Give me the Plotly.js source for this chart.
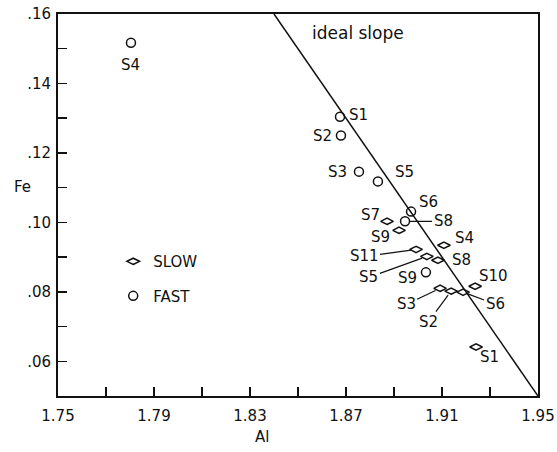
<!DOCTYPE html>
<html>
<head>
<meta charset="utf-8">
<script src="https://cdn.plot.ly/plotly-3.0.1.min.js"></script>
<style>
  html, body { margin: 0; padding: 0; background: #fff; }
  #chart { width: 557px; height: 452px; }
</style>
</head>
<body>
<div id="chart"></div>
<script>
// Slowly cooled samples (Al vs Fe per formula unit)
const slowLabels = ['S1', 'S2', 'S3', 'S4', 'S5', 'S6', 'S7', 'S8', 'S9', 'S10', 'S11'];
const slowAl = [1.9242, 1.9138, 1.9092, 1.9108, 1.9037, 1.9188, 1.8871, 1.9083, 1.8921, 1.9238, 1.8992];
const slowFe = [0.0641, 0.0802, 0.0810, 0.0934, 0.0902, 0.0799, 0.1003, 0.0891, 0.0977, 0.0816, 0.0922];

// Fast cooled samples
const fastLabels = ['S1', 'S2', 'S3', 'S4', 'S5', 'S6', 'S8', 'S9'];
const fastAl = [1.8675, 1.8679, 1.8754, 1.7804, 1.8833, 1.8971, 1.8946, 1.9033];
const fastFe = [0.1304, 0.1250, 0.1146, 0.1517, 0.1118, 0.1031, 0.1003, 0.0856];

// Ideal substitution line: Al + Fe = 2
const idealAl = [1.84, 1.95];
const idealFe = [0.16, 0.05];

// Axis ticks
const xTickVals = [1.75, 1.79, 1.83, 1.87, 1.91, 1.95];
const xTickText = ['1.75', '1.79', '1.83', '1.87', '1.91', '1.95'];
const yTickVals = [0.06, 0.08, 0.10, 0.12, 0.14, 0.16];
const yTickText = ['.06', '.08', '.10', '.12', '.14', '.16'];

// Label placement (pixel offsets from each marker; leader = draw a connecting line)
const slowLabelPos = [
  {dx: 13, dy: 10}, {dx: -23, dy: 31, leader: true}, {dx: -34, dy: 16, leader: true},
  {dx: 21, dy: -7}, {dx: -58, dy: 21, leader: true}, {dx: 32, dy: 12, leader: true},
  {dx: -17, dy: -6}, {dx: 24, dy: 0}, {dx: -19, dy: 7}, {dx: 18, dy: -10},
  {dx: -52, dy: 7, leader: true}
];
const fastLabelPos = [
  {dx: 18, dy: -2}, {dx: -18, dy: 0}, {dx: -21, dy: 0}, {dx: 0, dy: 22},
  {dx: 27, dy: -9}, {dx: 17, dy: -10}, {dx: 38, dy: 0, leader: true}, {dx: -18, dy: 6}
];

const FONT = 'DejaVu Sans, Arial, sans-serif';
const INK = '#111';

function sampleLabels(labels, al, fe, pos) {
  return labels.map((t, i) => {
    const p = pos[i];
    const a = {
      x: al[i], y: fe[i], xref: 'x', yref: 'y', text: t,
      font: {family: FONT, size: 15, color: INK}
    };
    if (p.leader) {
      Object.assign(a, {
        showarrow: true, arrowhead: 0, arrowwidth: 1.2, arrowcolor: INK,
        ax: p.dx, ay: p.dy, standoff: 5
      });
    } else {
      Object.assign(a, {showarrow: false, xshift: p.dx, yshift: -p.dy});
    }
    return a;
  });
}

const traces = [
  {
    x: idealAl, y: idealFe, mode: 'lines', showlegend: false,
    line: {color: INK, width: 1.5}, hoverinfo: 'skip'
  },
  {
    x: slowAl, y: slowFe, text: slowLabels, name: 'SLOW', mode: 'markers',
    legendgroup: 'slow',
    marker: {symbol: 'diamond-wide-open', size: 9, color: INK, line: {width: 1.5, color: INK}}
  },
  {
    x: fastAl, y: fastFe, text: fastLabels, name: 'FAST', mode: 'markers',
    legendgroup: 'fast',
    marker: {symbol: 'circle-open', size: 9, color: INK, line: {width: 1.5, color: INK}}
  }
];

const annotations = [
  ...sampleLabels(slowLabels, slowAl, slowFe, slowLabelPos),
  ...sampleLabels(fastLabels, fastAl, fastFe, fastLabelPos),
  {x: 1.875, y: 0.1545, xref: 'x', yref: 'y', text: 'ideal slope', showarrow: false,
   xanchor: 'center', yanchor: 'middle',
   font: {family: FONT, size: 17, color: INK}},
  {x: 0.425, y: -0.107, xref: 'paper', yref: 'paper', text: 'Al', showarrow: false,
   xanchor: 'center', yanchor: 'middle',
   font: {family: FONT, size: 15, color: INK}},
  {x: -0.073, y: 0.547, xref: 'paper', yref: 'paper', text: 'Fe', showarrow: false,
   xanchor: 'center', yanchor: 'middle',
   font: {family: FONT, size: 15, color: INK}}
];

const axisCommon = {
  showgrid: false, zeroline: false, showline: true, mirror: true,
  linecolor: INK, linewidth: 2,
  ticks: 'inside', ticklen: 9, tickwidth: 1.5, tickcolor: INK,
  tickfont: {family: FONT, size: 15, color: INK}
};

const layout = {
  width: 557, height: 452,
  margin: {l: 58, r: 19, t: 14, b: 56},
  paper_bgcolor: '#fff', plot_bgcolor: '#fff',
  font: {family: FONT, color: INK},
  showlegend: true,
  legend: {
    x: 0.115, y: 0.395, xanchor: 'left', yanchor: 'top',
    bgcolor: 'rgba(0,0,0,0)', borderwidth: 0, tracegroupgap: 12,
    font: {family: FONT, size: 15, color: INK}
  },
  xaxis: Object.assign({}, axisCommon, {
    range: [1.75, 1.95], tickmode: 'array', tickvals: xTickVals, ticktext: xTickText,
    ticklabelstandoff: 5,
    minor: {dtick: 0.02, tick0: 1.75, ticks: 'inside', ticklen: 9, tickwidth: 1.5, tickcolor: INK, showgrid: false}
  }),
  yaxis: Object.assign({}, axisCommon, {
    range: [0.05, 0.16], tickmode: 'array', tickvals: yTickVals, ticktext: yTickText,
    ticklabelstandoff: 2,
    minor: {dtick: 0.01, tick0: 0.05, ticks: 'inside', ticklen: 9, tickwidth: 1.5, tickcolor: INK, showgrid: false}
  }),
  annotations: annotations
};

Plotly.newPlot('chart', traces, layout, {displayModeBar: false, staticPlot: true});
</script>
</body>
</html>
